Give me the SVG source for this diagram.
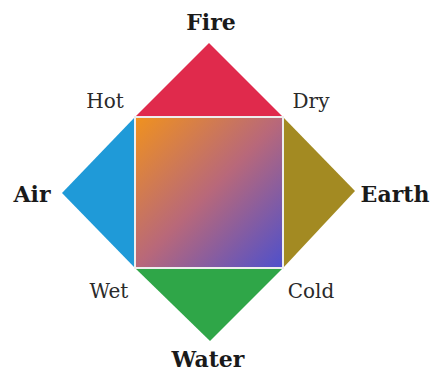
<svg xmlns="http://www.w3.org/2000/svg" width="434" height="373" viewBox="0 0 434 373">
<style>
.el{font-family:"DejaVu Serif","Liberation Serif",serif;font-weight:bold;font-size:22px;fill:#1a1a1a}
.q{font-family:"DejaVu Serif","Liberation Serif",serif;font-size:20px;fill:#2a2a2a}
.tri{stroke:none}
</style>
<defs>
<linearGradient id="g" x1="0" y1="0" x2="1" y2="1">
<stop offset="0" stop-color="#f0921e"/>
<stop offset="0.5" stop-color="#b8687a"/>
<stop offset="1" stop-color="#4e50cc"/>
</linearGradient>
</defs>
<rect width="434" height="373" fill="#ffffff"/>
<g id="fire"><polygon class="tri" points="135,117 283,117 209,43" fill="#e02a4c"/><text class="el" x="211" y="30" text-anchor="middle">Fire</text></g>
<g id="air"><polygon class="tri" points="135,117 135,268 62,193" fill="#1f9ad8"/><text class="el" x="32" y="202" text-anchor="middle">Air</text></g>
<g id="earth"><polygon class="tri" points="283,117 283,268 355,191" fill="#a38a22"/><text class="el" x="395" y="202" text-anchor="middle">Earth</text></g>
<g id="water"><polygon class="tri" points="135,268 283,268 210,341" fill="#2fa648"/><text class="el" x="208" y="367" text-anchor="middle">Water</text></g>
<g id="center"><rect x="135" y="117" width="148" height="151" fill="url(#g)" stroke="#eeeeee" stroke-width="2"/></g>
<g id="qualities">
<text class="q" x="105" y="108" text-anchor="middle">Hot</text>
<text class="q" x="311" y="108" text-anchor="middle">Dry</text>
<text class="q" x="109" y="298" text-anchor="middle">Wet</text>
<text class="q" x="311" y="298" text-anchor="middle">Cold</text>
</g>
</svg>
